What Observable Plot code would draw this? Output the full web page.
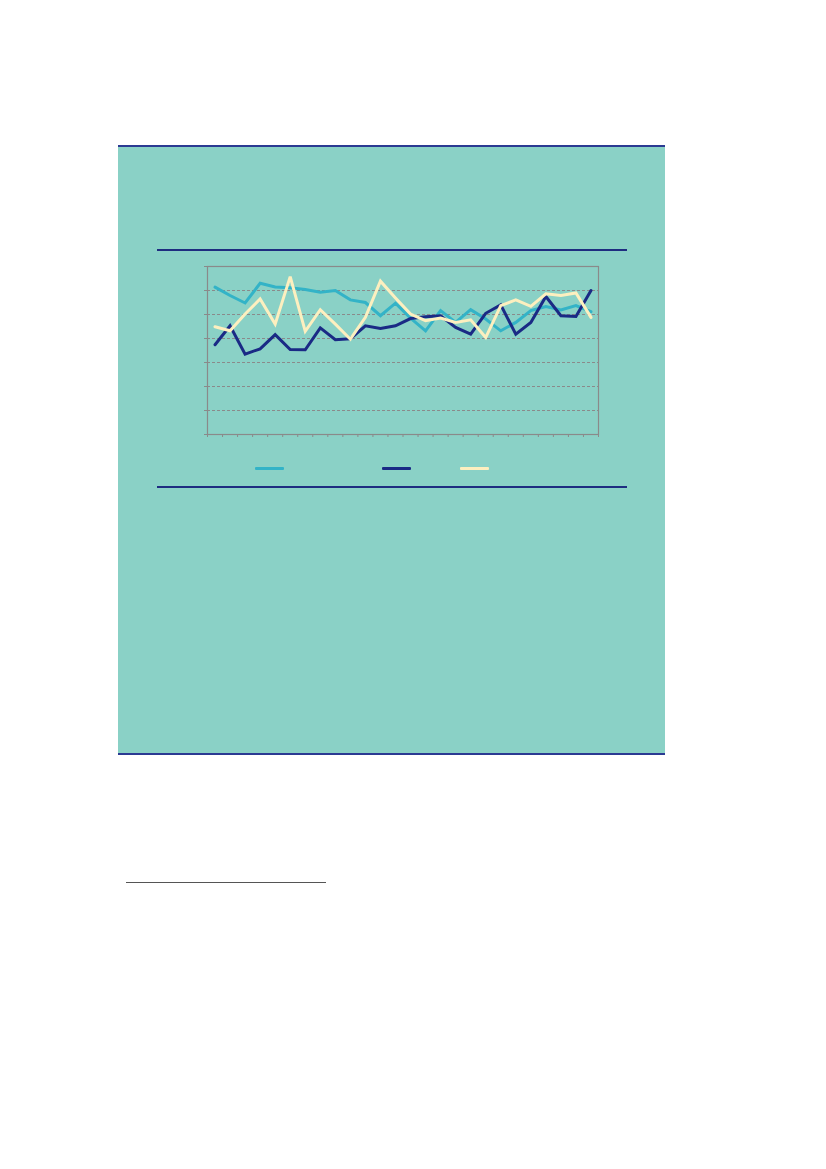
<!DOCTYPE html>
<html>
<head>
<meta charset="utf-8">
<script src="https://cdn.jsdelivr.net/npm/d3@7"></script>
<script src="https://cdn.jsdelivr.net/npm/@observablehq/plot@0.6"></script>
<style>
  html, body { margin: 0; padding: 0; background: #ffffff; }
  #page { position: relative; width: 826px; height: 1169px; overflow: hidden; font-family: "Liberation Sans", Arial, sans-serif; }
  #box { position: absolute; left: 118px; top: 145px; width: 547px; height: 606px; background: #8AD1C6;
         border-top: 2px solid #2B3A92; border-bottom: 2px solid #2B3A92; }
  .rule { position: absolute; left: 157px; width: 470px; height: 2px; background: #1E2D80; }
  #chart { position: absolute; left: 197px; top: 256px; }
  .sw { position: absolute; top: 467px; width: 29px; height: 3px; border-radius: 1px; }
  #foot { position: absolute; left: 126px; top: 882px; width: 200px; height: 1px; background: #555; }
</style>
</head>
<body>
<div id="page">
  <div id="box"></div>
  <div class="rule" style="top:249px"></div>
  <div class="rule" style="top:486px"></div>
  <div id="chart"></div>
  <div class="sw" style="left:255px;background:#33B3C7"></div>
  <div class="sw" style="left:382px;background:#1A2A85"></div>
  <div class="sw" style="left:460px;background:#FDEFBF"></div>
  <div id="foot"></div>
</div>
<script>
// Categories (period index; labels are not shown in the reference)
const categories = [1,2,3,4,5,6,7,8,9,10,11,12,13,14,15,16,17,18,19,20,21,22,23,24,25,26];
const seriesA = [6.14,5.79,5.48,6.30,6.15,6.11,6.04,5.93,6.00,5.61,5.50,4.95,5.47,4.85,4.32,5.16,4.67,5.20,4.81,4.32,4.67,5.16,5.33,5.19,5.37,5.12];
const seriesB = [3.74,4.53,3.35,3.57,4.16,3.54,3.53,4.44,3.95,3.99,4.53,4.42,4.53,4.83,4.91,4.95,4.46,4.18,5.05,5.40,4.18,4.67,5.75,4.95,4.92,6.00];
const seriesC = [4.49,4.32,5.02,5.65,4.60,6.58,4.30,5.20,4.60,3.97,4.88,6.39,5.69,5.02,4.74,4.85,4.67,4.78,4.04,5.37,5.61,5.34,5.86,5.79,5.90,4.88];
const yTicks = [0,1,2,3,4,5,6,7];
const gridTicks = [1,2,3,4,5,6];
const xTicks = [0,1,2,3,4,5,6,7,8,9,10,11,12,13,14,15,16,17,18,19,20,21,22,23,24,25,26];

const rows = (vals, s) => vals.map((v, i) => ({pos: i + 0.5, cat: categories[i], v, s}));
const data = [...rows(seriesA, "A"), ...rows(seriesB, "B"), ...rows(seriesC, "C")];

const chart = Plot.plot({
  width: 411,
  height: 190,
  marginLeft: 10,
  marginRight: 10,
  marginTop: 10,
  marginBottom: 12,
  style: {background: "transparent", overflow: "visible"},
  x: {type: "linear", domain: [0, categories.length], axis: null, label: null},
  y: {domain: [0, 7], axis: null, label: null},
  color: {domain: ["A", "B", "C"], range: ["#33B3C7", "#1A2A85", "#FDEFBF"]},
  marks: [
    Plot.ruleY(gridTicks, {stroke: "#8A8A8A", strokeWidth: 1, strokeDasharray: "3,2"}),
    Plot.axisX(xTicks, {tickSize: 3, tickFormat: () => "", label: null, stroke: "#8A8A8A", strokeWidth: 1}),
    Plot.axisY(yTicks, {tickSize: 3, tickFormat: () => "", label: null, stroke: "#8A8A8A", strokeWidth: 1}),
    Plot.frame({stroke: "#8A8A8A", strokeWidth: 1.2}),
    Plot.line(data, {x: "pos", y: "v", z: "s", stroke: "s", strokeWidth: 3, strokeLinejoin: "miter", strokeMiterlimit: 3})
  ]
});
document.getElementById("chart").appendChild(chart);
</script>
</body>
</html>
